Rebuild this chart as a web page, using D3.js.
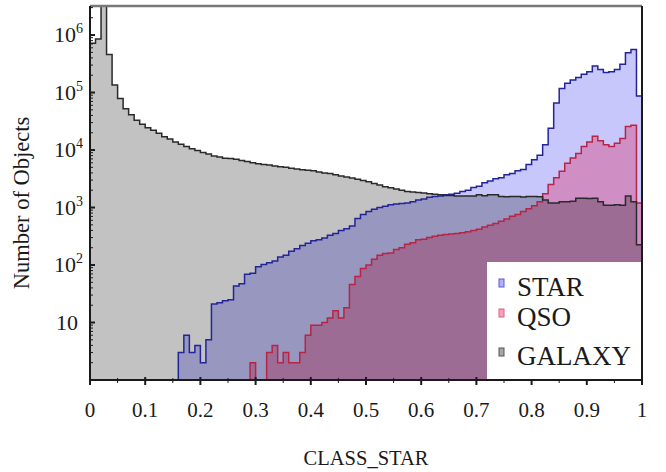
<!DOCTYPE html>
<html><head><meta charset="utf-8">
<script src="https://cdn.jsdelivr.net/npm/d3@7"></script>
<style>body{margin:0;background:#fff}svg{display:block}</style>
</head><body><svg id="c" width="666" height="472" font-family="'Liberation Serif', 'DejaVu Serif', 'Times New Roman', Times, serif"></svg>
<script>
// CLASS_STAR histogram, 100 bins of width 0.01
const galaxyCounts = [720000, 850000, 9000000, 460000, 135000, 79000, 52000, 41000, 33000, 28000,
24500, 22000, 19500, 17000, 15500, 13800, 12600, 11500, 10500, 9800,
9100, 8500, 7900, 7600, 7200, 7100, 6900, 6600, 6300, 6000,
5750, 5600, 5500, 5250, 5100, 5000, 4800, 4700, 4550, 4450,
4350, 4150, 4000, 3890, 3700, 3550, 3400, 3250, 3090, 2950,
2800, 2630, 2455, 2300, 2200, 2100, 2000, 1900, 1860, 1820,
1780, 1740, 1700, 1660, 1620, 1620, 1585, 1585, 1585, 1585,
1660, 1600, 1660, 1660, 1550, 1540, 1560, 1550, 1530, 1550,
1560, 1540, 1350, 1200, 1200, 1260, 1260, 1280, 1450, 1450,
1440, 1450, 1260, 1100, 1100, 1120, 1100, 1580, 1260, 225];
const starCounts = [0,0,0,0,0,0,0,0,0,0,
0,0,0,1,1,1,3,6,3,4,
2,5,21,22,24,25,43,47,69,72,
93,102,110,117,138,148,174,191,219,240,
263,275,295,331,355,398,427,479,646,759,
851,933,1000,1047,1122,1148,1175,1202,1259,1349,
1413,1514,1549,1585,1660,1698,1778,1905,1995,2239,
2344,2692,2884,3162,3311,3715,3890,4365,4571,5623,
6761,8128,12303,23988,66069,117490,144544,165959,181970,208930,
229087,288403,251189,223872,229087,251189,309030,489779,562341,87096];
const qsoCounts = [0,0,0,0,0,0,0,0,0,0,
0,0,0,0,0,0,0,0,0,0,
0,0,0,0,0,0,0,0,0,2,
0,0,3,4,2,3,2,2,3,6,
9,9,10,12,16,12,18,46,63,87,
100,126,148,158,162,186,200,229,245,275,
282,302,316,331,339,347,355,363,380,398,
417,457,490,525,575,631,708,759,851,955,
1072,1259,1738,2512,3311,4266,5888,7244,8710,11482,
13804,17378,14454,12303,11482,13183,15849,25704,26915,1200];
const xTickValues = [0,0.1,0.2,0.3,0.4,0.5,0.6,0.7,0.8,0.9,1];
const xTickLabels = ["0","0.1","0.2","0.3","0.4","0.5","0.6","0.7","0.8","0.9","1"];
const yTickValues = [10,100,1000,10000,100000,1000000];
const yTickExp = ["","2","3","4","5","6"];
const legendNames = ["STAR","QSO","GALAXY"];

const svg = d3.select("#c");
const L=90,R=642,T=6,B=380;
const x = d3.scaleLinear().domain([0,1]).range([L,R]);
const y = d3.scaleLog().domain([1,3.2e6]).range([B,T]).clamp(true);
const nb = 100;
const ink = "#1a1a1a";

svg.append("clipPath").attr("id","clip").append("rect").attr("x",L).attr("y",T).attr("width",R-L).attr("height",B-T);
const g = svg.append("g").attr("clip-path","url(#clip)");

function steps(vals){
  const pts=[[0,1]];
  vals.forEach((v,i)=>{const vv=Math.max(v,1);pts.push([i/nb,vv],[(i+1)/nb,vv]);});
  pts.push([1,1]);
  return pts;
}
const area = d3.area().x(d=>x(d[0])).y0(y(1)).y1(d=>y(d[1]));
const line = d3.line().x(d=>x(d[0])).y(d=>y(d[1]));

const series = [
  {vals:starCounts, fill:"#2020f0", fo:0.25, stroke:"#24249a"},
  {vals:qsoCounts, fill:"#e01850", fo:0.32, stroke:"#b82444"},
  {vals:galaxyCounts, fill:"#000000", fo:0.24, stroke:"#2a2a2a"}
];
series.forEach(s=>{
  g.append("path").attr("d",area(steps(s.vals))).attr("fill",s.fill).attr("fill-opacity",s.fo);
});
series.forEach(s=>{
  g.append("path").attr("d",line(steps(s.vals))).attr("fill","none").attr("stroke",s.stroke).attr("stroke-width",1.5);
});

// frame
svg.append("line").attr("x1",L).attr("x2",R).attr("y1",T).attr("y2",T).attr("stroke","#777").attr("stroke-width",2.5);
svg.append("line").attr("x1",R).attr("x2",R).attr("y1",T).attr("y2",B).attr("stroke",ink).attr("stroke-width",2);
svg.append("line").attr("x1",L).attr("x2",L).attr("y1",T).attr("y2",B+1).attr("stroke",ink).attr("stroke-width",2);
svg.append("line").attr("x1",L-1).attr("x2",R+1).attr("y1",B).attr("y2",B).attr("stroke",ink).attr("stroke-width",2);

// y ticks
const yMinor=[];
for(let e=0;e<7;e++){for(let m=2;m<=9;m++){const v=m*Math.pow(10,e); if(v<3.2e6) yMinor.push(v);}}
svg.selectAll(".ymin").data(yMinor).enter().append("line").attr("x1",L).attr("x2",L+3).attr("y1",d=>y(d)).attr("y2",d=>y(d)).attr("stroke",ink).attr("stroke-width",1);
svg.selectAll(".ymaj").data(yTickValues).enter().append("line").attr("x1",L).attr("x2",L+5).attr("y1",d=>y(d)).attr("y2",d=>y(d)).attr("stroke",ink).attr("stroke-width",2);
yTickValues.forEach((v,i)=>{
  const t = svg.append("text").attr("x",i===0?78:83).attr("y",y(v)+7).attr("text-anchor","end").attr("font-size",22).attr("fill",ink);
  t.append("tspan").text("10");
  if(yTickExp[i]) t.append("tspan").attr("dy",-9).attr("font-size",14).text(yTickExp[i]);
});

// x ticks
const xMinor = d3.range(0.05,1,0.1);
svg.selectAll(".xmin").data(xMinor).enter().append("line").attr("x1",d=>x(d)).attr("x2",d=>x(d)).attr("y1",B-2).attr("y2",B+3).attr("stroke",ink).attr("stroke-width",1);
svg.selectAll(".xmaj").data(xTickValues).enter().append("line").attr("x1",d=>x(d)).attr("x2",d=>x(d)).attr("y1",B-3).attr("y2",B+5).attr("stroke",ink).attr("stroke-width",2);
svg.selectAll(".xl").data(xTickValues).enter().append("text").attr("x",d=>x(d)).attr("y",417).attr("text-anchor","middle").attr("font-size",21).attr("fill",ink).text((d,i)=>xTickLabels[i]);

// titles
svg.append("text").attr("x",366).attr("y",465).attr("text-anchor","middle").attr("font-size",20.5).attr("fill",ink).text("CLASS_STAR");
svg.append("text").attr("transform","translate(29,203) rotate(-90)").attr("text-anchor","middle").attr("font-size",22.5).attr("fill",ink).text("Number of Objects");

// legend
const lg = svg.append("g");
lg.append("rect").attr("x",487).attr("y",262).attr("width",R-487-1).attr("height",B-262-1).attr("fill","#fff");
const ly=[288,318,357];
const lc=[{f:"#2020f0",o:0.35,s:"#5a5ad8"},{f:"#e01850",o:0.4,s:"#e06080"},{f:"#000",o:0.35,s:"#555"}];
legendNames.forEach((n,i)=>{
  lg.append("rect").attr("x",499).attr("y",ly[i]-9).attr("width",5).attr("height",8).attr("fill",lc[i].f).attr("fill-opacity",lc[i].o).attr("stroke",lc[i].s).attr("stroke-width",1);
  lg.append("text").attr("x",517).attr("y",ly[i]+8).attr("font-size",27).attr("fill",ink).text(n);
});
</script></body></html>
